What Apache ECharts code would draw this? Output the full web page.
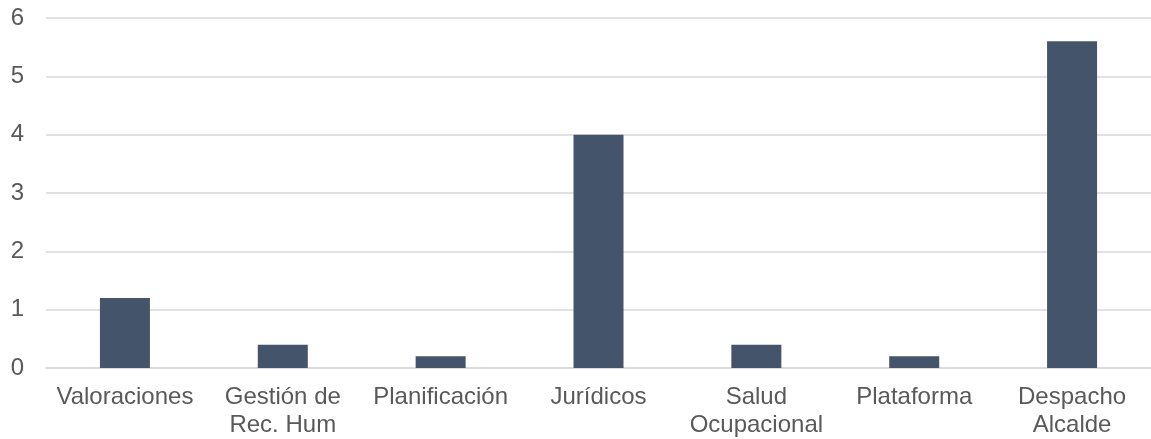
<!DOCTYPE html>
<html>
<head>
<meta charset="utf-8">
<style>
  html, body { margin: 0; padding: 0; background: #fff; }
  #chart { width: 1151px; height: 439px; }
</style>
<script src="https://cdn.jsdelivr.net/npm/echarts@6/dist/echarts.min.js"></script>
</head>
<body>
<div id="chart"></div>
<script>
// Departments and their values
const categories = ['Valoraciones', 'Gestión de\nRec. Hum', 'Planificación', 'Jurídicos', 'Salud\nOcupacional', 'Plataforma', 'Despacho\nAlcalde'];
const values = [1.2, 0.4, 0.2, 4.0, 0.4, 0.2, 5.6];
const yTicks = [0, 1, 2, 3, 4, 5, 6];

const chart = echarts.init(document.getElementById('chart'), null, { renderer: 'canvas' });
const font = "'Liberation Sans', Arial, sans-serif";

chart.setOption({
  animation: false,
  textStyle: { fontFamily: font, fontSize: 24 },
  grid: { left: 46, top: 18, width: 1111, height: 350.5, containLabel: false },
  xAxis: {
    type: 'category',
    data: categories,
    axisTick: { show: false },
    axisLine: { show: true, lineStyle: { color: '#D9D9D9', width: 1.5 } },
    axisLabel: {
      color: '#595959', fontSize: 24, fontFamily: font,
      margin: 15, lineHeight: 28, interval: 0
    }
  },
  yAxis: {
    type: 'value',
    min: yTicks[0],
    max: yTicks[yTicks.length - 1],
    interval: 1,
    axisLine: { show: false },
    axisTick: { show: false },
    splitLine: { lineStyle: { color: '#D9D9D9', width: 1.5 } },
    axisLabel: { color: '#595959', fontSize: 24, fontFamily: font, margin: 22 }
  },
  series: [{
    type: 'bar',
    data: values,
    barWidth: 50,
    itemStyle: { color: '#44546A' }
  }]
});
</script>
</body>
</html>
